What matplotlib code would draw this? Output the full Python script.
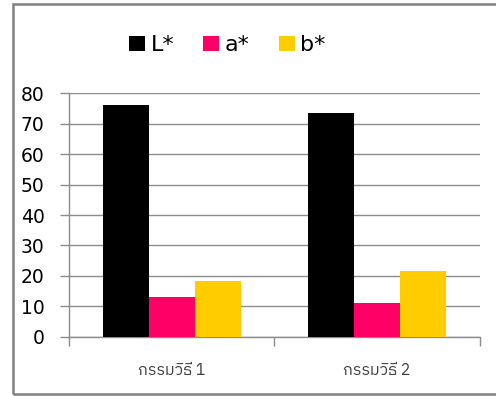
import numpy as np
import matplotlib.pyplot as plt
from matplotlib.patches import Rectangle

categories = ['กรรมวิธี 1', 'กรรมวิธี 2']
series = ['L*', 'a*', 'b*']
L_vals = [76.0, 73.5]
a_vals = [13.2, 11.0]
b_vals = [18.3, 21.6]
colors = ['#000000', '#FF0066', '#FFCC00']

fig = plt.figure(figsize=(4.96, 3.96), dpi=100)
ax = fig.add_axes([0.1391, 0.1497, 0.8286, 0.6147])

x = np.arange(len(categories))
w = 0.224
for i, (vals, name) in enumerate(zip([L_vals, a_vals, b_vals], series)):
    ax.bar(x + (i - 1) * w, vals, width=w, color=colors[i], label=name, zorder=3)

ax.set_xlim(-0.5, len(categories) - 0.5)
ax.set_ylim(0, 80)
ax.set_yticks(range(0, 81, 10))
ax.yaxis.grid(True, color='#8c8c8c', linewidth=1.0, zorder=0)

for s in ['top', 'right']:
    ax.spines[s].set_visible(False)
for s in ['left', 'bottom']:
    ax.spines[s].set_color('#8c8c8c')
    ax.spines[s].set_linewidth(1.0)

ax.tick_params(axis='y', length=6.5, width=1.0, color='#8c8c8c', pad=11,
               labelsize=13.5, labelcolor='#000000')

# category labels centred, tick marks on group boundaries
ax.set_xticks(x)
ax.set_xticklabels(categories, family=['IBM Plex Sans Thai', 'DejaVu Sans'],
                   fontsize=11.5, color='#404040')
ax.tick_params(axis='x', which='major', length=0, pad=18)
ax.set_xticks(np.arange(-0.5, len(categories)), minor=True)
ax.tick_params(axis='x', which='minor', length=6.5, width=1.0, color='#8c8c8c')

fig.legend(loc='center', bbox_to_anchor=(0.4587, 0.886), ncol=3, frameon=False,
           fontsize=16, handlelength=0.72, handleheight=0.68, handletextpad=0.25,
           columnspacing=1.3, borderaxespad=0)

# outer chart frame
fig.add_artist(Rectangle((0.0262, 0.006), 1.2, 0.984, transform=fig.transFigure,
                         fill=False, edgecolor='#808080', linewidth=1.8))

fig.savefig('out.png', dpi=100)
